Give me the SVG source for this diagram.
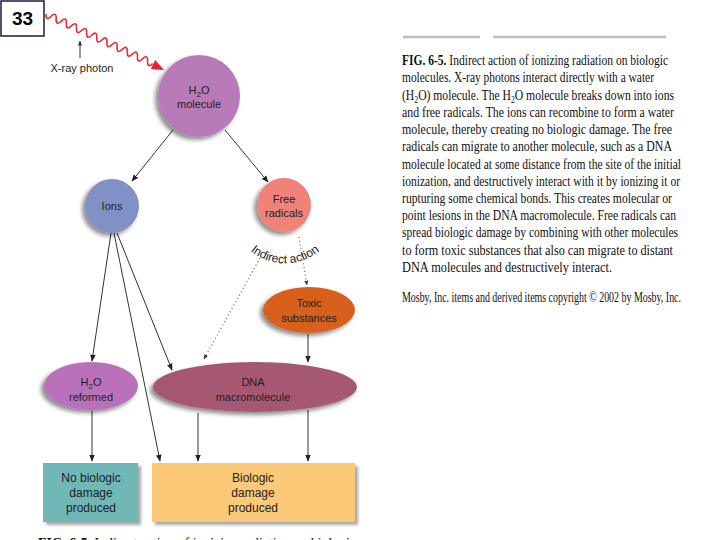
<svg xmlns="http://www.w3.org/2000/svg" width="720" height="540" viewBox="0 0 720 540">
<defs>
<style>
.lbl{font-family:"Liberation Sans",Arial,sans-serif;font-size:11px;fill:#1e1e1e;text-anchor:middle}
.box{font-family:"Liberation Sans",Arial,sans-serif;font-size:12px;fill:#1e1e1e;text-anchor:middle}
.cap{font-family:"Liberation Serif","Times New Roman",serif;font-size:15px;fill:#111}
.con{stroke:#333;stroke-width:1;fill:none}
.dot{stroke:#777;stroke-width:1.2;fill:none;stroke-dasharray:1.2 2.6}
</style>
<marker id="ah" viewBox="0 0 10 10" refX="9" refY="5" markerWidth="7" markerHeight="7" markerUnits="userSpaceOnUse" orient="auto">
<path d="M0,1 L10,5 L0,9 Z" fill="#222"/>
</marker>
<marker id="ahs" viewBox="0 0 10 10" refX="9" refY="5" markerWidth="5" markerHeight="5" markerUnits="userSpaceOnUse" orient="auto">
<path d="M0,1 L10,5 L0,9 Z" fill="#333"/>
</marker>
<filter id="sh" x="-30%" y="-30%" width="160%" height="160%">
<feGaussianBlur in="SourceAlpha" stdDeviation="2"/>
<feOffset dx="-3" dy="3" result="b"/>
<feComponentTransfer><feFuncA type="linear" slope="0.45"/></feComponentTransfer>
<feMerge><feMergeNode/><feMergeNode in="SourceGraphic"/></feMerge>
</filter>
<filter id="bsh" x="-10%" y="-10%" width="130%" height="130%">
<feGaussianBlur in="SourceAlpha" stdDeviation="1.5"/>
<feOffset dx="3" dy="3"/>
<feComponentTransfer><feFuncA type="linear" slope="0.35"/></feComponentTransfer>
<feMerge><feMergeNode/><feMergeNode in="SourceGraphic"/></feMerge>
</filter>
<path id="arcp" d="M236,232 A54,54 0 0 0 334,232"/>
</defs>
<rect width="720" height="540" fill="#fff"/>

<g id="slide-number">
<rect x="1" y="1" width="43" height="35" fill="#fff" stroke="#1a1a40" stroke-width="1.5"/>
<text x="22.5" y="25" style="font-family:'Liberation Sans',Arial,sans-serif;font-size:19px;font-weight:bold;fill:#000;text-anchor:middle">33</text>
</g>

<g id="xray-photon">
<path d="M46,14 Q45.6,21.5 51.08,16.36 T56.16,18.72 T61.24,21.08 T66.32,23.44 T71.4,25.8 T76.48,28.16 T81.56,30.52 T86.64,32.88 T91.72,35.24 T96.8,37.6 T101.88,39.96 T106.96,42.32 T112.04,44.68 T117.12,47.04 T122.2,49.4 T127.28,51.76 T132.36,54.12 T137.44,56.48 T142.52,58.84 T147.6,61.2 T152.68,63.56" fill="none" stroke="#e0303a" stroke-width="1.6"/>
<polygon points="164,70 155.1,59.9 150.9,68.9" fill="#e8202c"/>
<line x1="80" y1="58" x2="80" y2="41" class="con" marker-end="url(#ahs)"/>
<text x="82" y="72" class="lbl">X-ray photon</text>
</g>

<g id="connectors">
<line x1="173" y1="130" x2="132" y2="181" class="con" marker-end="url(#ah)"/>
<line x1="225" y1="130" x2="268" y2="182" class="con" marker-end="url(#ah)"/>
<line x1="111" y1="233" x2="92" y2="361" class="con" marker-end="url(#ah)"/>
<line x1="114" y1="233" x2="160" y2="461" class="con" marker-end="url(#ah)"/>
<line x1="117" y1="233" x2="172" y2="370" class="con" marker-end="url(#ah)"/>
<line x1="260" y1="258" x2="204" y2="359" class="dot" marker-end="url(#ahs)"/>
<line x1="299" y1="237" x2="307" y2="285" class="dot" marker-end="url(#ahs)"/>
<line x1="308" y1="334" x2="308" y2="362" class="con" stroke-width="1.3" marker-end="url(#ah)"/>
<line x1="92" y1="411" x2="92" y2="461" class="con" stroke-width="1.2" marker-end="url(#ah)"/>
<line x1="198" y1="413" x2="198" y2="461" class="con" marker-end="url(#ah)"/>
<line x1="308" y1="410" x2="308" y2="461" class="con" stroke-width="1.2" marker-end="url(#ah)"/>
<text style="font-family:'Liberation Sans',Arial,sans-serif;font-size:12px;fill:#1e1e1e"><textPath href="#arcp" startOffset="50%" text-anchor="middle">Indirect action</textPath></text>
</g>

<g id="h2o-molecule">
<circle cx="199" cy="96" r="41" fill="#b87ab9" filter="url(#sh)"/>
<text x="199" y="94" class="lbl">H<tspan font-size="8" dy="3">2</tspan><tspan dy="-3">O</tspan></text>
<text x="199" y="108" class="lbl">molecule</text>
</g>

<g id="ions">
<circle cx="112" cy="206" r="27" fill="#8191c5" filter="url(#sh)"/>
<text x="112" y="210" class="lbl">Ions</text>
</g>

<g id="free-radicals">
<circle cx="284" cy="205" r="27" fill="#f0827a" filter="url(#sh)"/>
<text x="284" y="203" class="lbl">Free</text>
<text x="284" y="217" class="lbl">radicals</text>
</g>

<g id="toxic-substances">
<ellipse cx="309" cy="310" rx="46" ry="23" fill="#d6611d" filter="url(#sh)"/>
<text x="309" y="307" class="lbl">Toxic</text>
<text x="309" y="322" class="lbl">substances</text>
</g>

<g id="h2o-reformed">
<ellipse cx="91" cy="386" rx="47" ry="24" fill="#b972b9" filter="url(#sh)"/>
<text x="91" y="386" class="lbl">H<tspan font-size="8" dy="3">2</tspan><tspan dy="-3">O</tspan></text>
<text x="91" y="401" class="lbl">reformed</text>
</g>

<g id="dna">
<ellipse cx="255" cy="387" rx="102" ry="25" fill="#a65873" filter="url(#sh)"/>
<text x="253" y="386" class="lbl">DNA</text>
<text x="253" y="401" class="lbl">macromolecule</text>
</g>

<g id="no-damage">
<rect x="43" y="463" width="95" height="59" fill="#70b8b8" filter="url(#bsh)"/>
<text x="91" y="482" class="box">No biologic</text>
<text x="91" y="497" class="box">damage</text>
<text x="91" y="512" class="box">produced</text>
</g>

<g id="damage">
<rect x="152" y="463" width="203" height="59" fill="#fcc979" filter="url(#bsh)"/>
<text x="253" y="482" class="box">Biologic</text>
<text x="253" y="497" class="box">damage</text>
<text x="253" y="512" class="box">produced</text>
</g>

<g id="caption">
<line x1="403" y1="37" x2="480" y2="37" stroke="#bdbdbd" stroke-width="2.5"/>
<line x1="493" y1="37" x2="666" y2="37" stroke="#bdbdbd" stroke-width="2.5"/>
<text class="cap" x="402" y="65" textLength="266" lengthAdjust="spacingAndGlyphs"><tspan font-weight="bold">FIG. 6-5.</tspan> Indirect action of ionizing radiation on biologic</text>
<text class="cap" x="402" y="82" textLength="252" lengthAdjust="spacingAndGlyphs">molecules. X-ray photons interact directly with a water</text>
<text class="cap" x="402" y="100" textLength="272" lengthAdjust="spacingAndGlyphs">(H<tspan font-size="10" dy="3">2</tspan><tspan dy="-3">O) molecule. The H</tspan><tspan font-size="10" dy="3">2</tspan><tspan dy="-3">O molecule breaks down into ions</tspan></text>
<text class="cap" x="402" y="117" textLength="272" lengthAdjust="spacingAndGlyphs">and free radicals. The ions can recombine to form a water</text>
<text class="cap" x="402" y="134" textLength="270" lengthAdjust="spacingAndGlyphs">molecule, thereby creating no biologic damage. The free</text>
<text class="cap" x="402" y="151" textLength="270" lengthAdjust="spacingAndGlyphs">radicals can migrate to another molecule, such as a DNA</text>
<text class="cap" x="402" y="169" textLength="279" lengthAdjust="spacingAndGlyphs">molecule located at some distance from the site of the initial</text>
<text class="cap" x="402" y="186" textLength="278" lengthAdjust="spacingAndGlyphs">ionization, and destructively interact with it by ionizing it or</text>
<text class="cap" x="402" y="203" textLength="270" lengthAdjust="spacingAndGlyphs">rupturing some chemical bonds. This creates molecular or</text>
<text class="cap" x="402" y="220" textLength="274" lengthAdjust="spacingAndGlyphs">point lesions in the DNA macromolecule. Free radicals can</text>
<text class="cap" x="402" y="237" textLength="276" lengthAdjust="spacingAndGlyphs">spread biologic damage by combining with other molecules</text>
<text class="cap" x="402" y="255" textLength="271" lengthAdjust="spacingAndGlyphs">to form toxic substances that also can migrate to distant</text>
<text class="cap" x="402" y="272" textLength="210" lengthAdjust="spacingAndGlyphs">DNA molecules and destructively interact.</text>
<text class="cap" x="402" y="302" font-size="12.5" textLength="279" lengthAdjust="spacingAndGlyphs">Mosby, Inc. items and derived items copyright © 2002 by Mosby, Inc.</text>
<text class="cap" x="38" y="548" textLength="318" lengthAdjust="spacingAndGlyphs"><tspan font-weight="bold">FIG. 6-5.</tspan> Indirect action of ionizing radiation on biologic</text>
</g>
</svg>
